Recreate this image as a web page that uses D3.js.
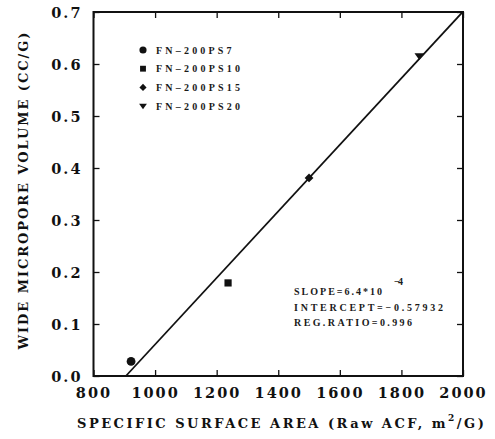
<!DOCTYPE html>
<html>
<head>
<meta charset="utf-8">
<script src="https://cdn.jsdelivr.net/npm/d3@7"></script>
<style>
  html, body { margin: 0; padding: 0; background: #fff; }
  svg { display: block; }
  .tick-label { font-family: "DejaVu Serif", serif; font-weight: bold; font-size: 14.5px; fill: #111; }
  .axis-title { font-family: "DejaVu Serif", serif; font-weight: bold; font-size: 13px; fill: #111; }
  .small { font-family: "Liberation Serif", serif; font-weight: bold; font-size: 10px; fill: #1a1a1a; }
</style>
</head>
<body>
<svg id="chart" width="495" height="439"></svg>
<script>
// Samples: specific surface area (m2/g) vs wide micropore volume (cc/g)
const sampleNames = ["FN-200PS7", "FN-200PS10", "FN-200PS15", "FN-200PS20"];
const surfaceArea = [922, 1237, 1500, 1858];
const microVolume = [0.028, 0.179, 0.381, 0.615];
const markerShapes = ["circle", "square", "diamond", "triangle"];

// Linear regression reported on the plot
const slope = 6.4e-4;
const intercept = -0.57932;
const regRatio = 0.996;

const xTicks = [800, 1000, 1200, 1400, 1600, 1800, 2000];
const yTicks = [0.0, 0.1, 0.2, 0.3, 0.4, 0.5, 0.6, 0.7];

const svg = d3.select("#chart");
const plotL = 93.5, plotR = 463, plotT = 12, plotB = 376;

const x = d3.scaleLinear().domain([800, 2000]).range([plotL, plotR]);
const y = d3.scaleLinear().domain([0, 0.7]).range([plotB, plotT]);

const ink = "#111";

// Frame
svg.append("rect")
  .attr("x", plotL).attr("y", plotT)
  .attr("width", plotR - plotL).attr("height", plotB - plotT)
  .attr("fill", "none").attr("stroke", ink).attr("stroke-width", 2);

// Inward ticks on all four sides
const tickLen = 6;
const bottomAxis = d3.axisBottom(x).tickValues(xTicks).tickSize(-tickLen).tickFormat(d => d);
const gx = svg.append("g").attr("transform", `translate(0,${plotB})`).call(bottomAxis);
gx.select(".domain").remove();
gx.selectAll("line").attr("stroke", ink).attr("stroke-width", 1.3);
gx.selectAll("text").attr("class", "tick-label").attr("dy", null).attr("y", 22)
  .attr("letter-spacing", "2px");

const topAxis = d3.axisTop(x).tickValues(xTicks).tickSize(-tickLen).tickFormat("");
const gt = svg.append("g").attr("transform", `translate(0,${plotT})`).call(topAxis);
gt.select(".domain").remove();
gt.selectAll("line").attr("stroke", ink).attr("stroke-width", 1.3);

const leftAxis = d3.axisLeft(y).tickValues(yTicks).tickSize(-tickLen).tickFormat(d3.format(".1f"));
const gy = svg.append("g").attr("transform", `translate(${plotL},0)`).call(leftAxis);
gy.select(".domain").remove();
gy.selectAll("line").attr("stroke", ink).attr("stroke-width", 1.3);
gy.selectAll("text").attr("class", "tick-label").attr("x", -11).attr("dy", "0.36em")
  .attr("letter-spacing", "2px");

const rightAxis = d3.axisRight(y).tickValues(yTicks).tickSize(-tickLen).tickFormat("");
const gr = svg.append("g").attr("transform", `translate(${plotR},0)`).call(rightAxis);
gr.select(".domain").remove();
gr.selectAll("line").attr("stroke", ink).attr("stroke-width", 1.3);

// Regression line, from its x-intercept to the right edge
const x0 = -intercept / slope;
const line = d3.line().x(d => x(d)).y(d => y(slope * d + intercept));
svg.append("path")
  .datum([x0, 2000])
  .attr("d", line)
  .attr("fill", "none").attr("stroke", ink).attr("stroke-width", 1.8);

// Marker symbols
function drawMarker(g, shape, cx, cy, s) {
  if (shape === "circle") {
    g.append("circle").attr("cx", cx).attr("cy", cy).attr("r", s * 0.55).attr("fill", ink);
  } else if (shape === "square") {
    g.append("rect").attr("x", cx - s * 0.45).attr("y", cy - s * 0.45)
      .attr("width", s * 0.9).attr("height", s * 0.9).attr("fill", ink);
  } else if (shape === "diamond") {
    const r = s * 0.55;
    g.append("path").attr("d", `M${cx},${cy - r}L${cx + r},${cy}L${cx},${cy + r}L${cx - r},${cy}Z`).attr("fill", ink);
  } else {
    const r = s * 0.6;
    g.append("path").attr("d", `M${cx - r},${cy - r * 0.6}L${cx + r},${cy - r * 0.6}L${cx},${cy + r * 0.8}Z`).attr("fill", ink);
  }
}

const pts = svg.append("g");
surfaceArea.forEach((v, i) => drawMarker(pts, markerShapes[i], x(v), y(microVolume[i]), 8));

// Legend
const legend = svg.append("g");
sampleNames.forEach((name, i) => {
  const ly = 50 + i * 18.7;
  drawMarker(legend, markerShapes[i], 143, ly, 6.5);
  legend.append("text").attr("class", "small")
    .attr("x", 156).attr("y", ly + 3.6)
    .attr("textLength", name.length * 8.4).attr("lengthAdjust", "spacing")
    .text(name.replace("-", "\u2013"));
});

// Regression summary
const stats = svg.append("g");
stats.append("text").attr("class", "small").attr("x", 294).attr("y", 295)
  .attr("textLength", 88).attr("lengthAdjust", "spacing").text("SLOPE=6.4*10");
stats.append("text").attr("class", "small").attr("x", 394).attr("y", 285)
  .attr("textLength", 9).attr("lengthAdjust", "spacing").text("\u22124");
stats.append("text").attr("class", "small").attr("x", 294).attr("y", 311)
  .attr("textLength", 149).attr("lengthAdjust", "spacing").text("INTERCEPT=\u22120.57932");
stats.append("text").attr("class", "small").attr("x", 294).attr("y", 326)
  .attr("textLength", 118).attr("lengthAdjust", "spacing").text("REG.RATIO=" + regRatio);

// Axis titles
const xt = svg.append("text").attr("class", "axis-title")
  .attr("x", 77).attr("y", 428).attr("letter-spacing", "2.5px");
xt.append("tspan").text("SPECIFIC SURFACE AREA (Raw ACF, m");
xt.append("tspan").attr("dy", -7).attr("font-size", "9px").text("2");
xt.append("tspan").attr("dy", 7).text("/G)");

svg.append("text").attr("class", "axis-title")
  .attr("transform", "translate(28,191) rotate(-90)")
  .attr("text-anchor", "middle")
  .attr("textLength", 317).attr("lengthAdjust", "spacing")
  .text("WIDE MICROPORE VOLUME (CC/G)");
</script>
</body>
</html>
